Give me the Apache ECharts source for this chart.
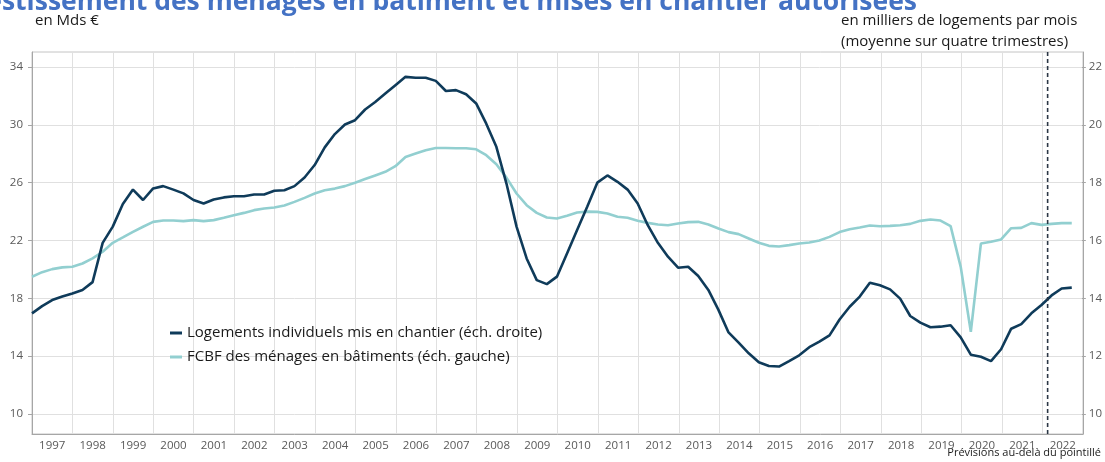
<!DOCTYPE html>
<html>
<head>
<meta charset="utf-8">
<script src="https://cdn.jsdelivr.net/npm/echarts@6/dist/echarts.min.js"></script>
<style>
  html, body { margin: 0; padding: 0; background: #fff; }
  #chart { width: 1105px; height: 462px; }
</style>
</head>
<body>
<div id="chart"></div>
<script>
// années (bandes de l'axe X)
var years = ['1997','1998','1999','2000','2001','2002','2003','2004','2005','2006','2007','2008','2009',
  '2010','2011','2012','2013','2014','2015','2016','2017','2018','2019','2020','2021','2022'];

// données trimestrielles, 1997T1 -> 2022T4 (104 points)
// logements individuels mis en chantier (échelle droite, milliers / mois)
var logements = [
  13.48, 13.73, 13.94, 14.06, 14.17, 14.29, 14.56, 15.92, 16.48, 17.26, 17.76, 17.40,
  17.80, 17.88, 17.76, 17.63, 17.40, 17.28, 17.42, 17.49, 17.53, 17.53, 17.59, 17.59,
  17.72, 17.74, 17.88, 18.18, 18.61, 19.22, 19.68, 20.01, 20.16, 20.53, 20.79, 21.08,
  21.37, 21.66, 21.63, 21.63, 21.52, 21.17, 21.20, 21.06, 20.74, 20.04, 19.24, 17.97,
  16.48, 15.38, 14.63, 14.49, 14.75, 15.55, 16.36, 17.17, 18.00, 18.25, 18.03, 17.76,
  17.28, 16.53, 15.92, 15.44, 15.06, 15.09, 14.77, 14.29, 13.60, 12.82, 12.47, 12.10,
  11.79, 11.66, 11.64, 11.83, 12.03, 12.31, 12.50, 12.72, 13.27, 13.71, 14.06, 14.54,
  14.45, 14.31, 13.99, 13.39, 13.16, 13.00, 13.02, 13.07, 12.65, 12.05, 11.98, 11.83,
  12.24, 12.95, 13.11, 13.48, 13.77, 14.10, 14.34, 14.37
];
// FBCF des ménages en bâtiments (échelle gauche, Mds €)
var fbcf = [
  19.49, 19.81, 20.02, 20.14, 20.18, 20.41, 20.76, 21.22, 21.84, 22.21, 22.60, 22.95,
  23.29, 23.38, 23.38, 23.34, 23.41, 23.34, 23.41, 23.57, 23.75, 23.91, 24.10, 24.21,
  24.28, 24.42, 24.67, 24.95, 25.25, 25.48, 25.59, 25.76, 25.99, 26.25, 26.50, 26.75,
  27.14, 27.78, 28.01, 28.24, 28.40, 28.40, 28.38, 28.38, 28.31, 27.90, 27.28, 26.35,
  25.25, 24.44, 23.91, 23.59, 23.52, 23.71, 23.94, 24.00, 23.98, 23.87, 23.64, 23.57,
  23.36, 23.22, 23.11, 23.06, 23.18, 23.27, 23.29, 23.11, 22.83, 22.58, 22.44, 22.14,
  21.84, 21.63, 21.59, 21.68, 21.79, 21.86, 22.00, 22.25, 22.58, 22.78, 22.90, 23.04,
  22.99, 23.01, 23.06, 23.15, 23.36, 23.45, 23.38, 22.99, 20.18, 15.69, 21.79, 21.91,
  22.07, 22.85, 22.87, 23.20, 23.08, 23.15, 23.20, 23.20
];
// début des prévisions (en trimestres depuis 1997T1)
var forecastStart = 100.5;

var nomLogements = 'Logements individuels mis en chantier (éch. droite)';
var nomFbcf = 'FCBF des ménages en bâtiments (éch. gauche)';

var font = 'Open Sans';
var axisGrey = '#a6a6a6';
var gridGrey = '#e0e0e0';

var chart = echarts.init(document.getElementById('chart'));

chart.setOption({
  animation: false,
  textStyle: { fontFamily: font },
  graphic: [
    { type: 'text', style: { text: 'Investissement des ménages en bâtiment et mises en chantier autorisées',
        x: 917, y: 2, align: 'right', verticalAlign: 'middle',
        font: 'bold 26.5px "Open Sans"', fill: '#4472c4' } },
    { type: 'text', style: { text: 'en Mds €', x: 35, y: 21, verticalAlign: 'middle',
        font: '15px "Open Sans"', fill: '#1a1a1a' } },
    { type: 'text', style: { text: 'en milliers de logements par mois', x: 841, y: 21, verticalAlign: 'middle',
        font: '15px "Open Sans"', fill: '#1a1a1a' } },
    { type: 'text', style: { text: '(moyenne sur quatre trimestres)', x: 841, y: 42, verticalAlign: 'middle',
        font: '15px "Open Sans"', fill: '#1a1a1a' } },
    { type: 'text', style: { text: 'Prévisions au-delà du pointillé', x: 1101, y: 453, align: 'right', verticalAlign: 'middle',
        font: '11px "Open Sans"', fill: '#1a1a1a' } }
  ],
  legend: {
    orient: 'vertical',
    left: 165,
    top: 320,
    data: [nomLogements, nomFbcf],
    icon: 'rect',
    itemWidth: 12,
    itemHeight: 3,
    itemGap: 8,
    textStyle: { fontSize: 15, lineHeight: 16, color: '#1a1a1a', fontFamily: font }
  },
  grid: [
    // cadre (axe des années)
    { left: 32, right: 22, top: 52, bottom: 28, show: true, borderColor: '#c4c4c4', borderWidth: 1 },
    // zone des courbes (10 -> 34 à gauche)
    { left: 32, right: 22, top: 67, bottom: 48 }
  ],
  xAxis: [
    {
      gridIndex: 0, type: 'category', data: years, boundaryGap: true,
      axisLine: { lineStyle: { color: axisGrey } },
      axisTick: { length: 4, lineStyle: { color: axisGrey } },
      axisLabel: { interval: 0, margin: 6, fontSize: 11.5, color: '#595959' },
      splitLine: { show: true, lineStyle: { color: gridGrey } }
    },
    { gridIndex: 0, type: 'value', min: 0, max: 104, show: false },
    { gridIndex: 1, type: 'value', min: 0, max: 104, show: false }
  ],
  yAxis: [
    { gridIndex: 0, type: 'value', min: 0, max: 1, position: 'left',
      axisLine: { show: true, lineStyle: { color: axisGrey } },
      axisTick: { show: false }, axisLabel: { show: false }, splitLine: { show: false } },
    { gridIndex: 0, type: 'value', min: 0, max: 1, position: 'right',
      axisLine: { show: true, lineStyle: { color: axisGrey } },
      axisTick: { show: false }, axisLabel: { show: false }, splitLine: { show: false } },
    { gridIndex: 1, type: 'value', min: 10, max: 34, interval: 4, position: 'left',
      axisLine: { show: false },
      axisTick: { show: true, length: 4, lineStyle: { color: axisGrey } },
      axisLabel: { margin: 9, fontSize: 11.5, color: '#595959' },
      splitLine: { show: true, lineStyle: { color: gridGrey } } },
    { gridIndex: 1, type: 'value', min: 10, max: 22, interval: 2, position: 'right',
      axisLine: { show: false },
      axisTick: { show: true, length: 4, lineStyle: { color: axisGrey } },
      axisLabel: { margin: 7, fontSize: 11.5, color: '#595959' },
      splitLine: { show: false } }
  ],
  series: [
    {
      name: nomFbcf, type: 'line', xAxisIndex: 2, yAxisIndex: 2,
      data: fbcf.map(function (v, i) { return [i, v]; }),
      showSymbol: false, symbol: 'none',
      lineStyle: { color: '#92cfd0', width: 2.6 },
      itemStyle: { color: '#92cfd0' }
    },
    {
      name: nomLogements, type: 'line', xAxisIndex: 2, yAxisIndex: 3,
      data: logements.map(function (v, i) { return [i, v]; }),
      showSymbol: false, symbol: 'none',
      lineStyle: { color: '#0f3b5a', width: 2.6 },
      itemStyle: { color: '#0f3b5a' }
    },
    {
      // pointillé : début des prévisions
      name: 'prevision', type: 'line', xAxisIndex: 1, yAxisIndex: 0,
      data: [[forecastStart, 0], [forecastStart, 1]],
      showSymbol: false, symbol: 'none', silent: true,
      lineStyle: { color: '#2b3645', width: 1.6, type: [4, 3] }
    }
  ]
});
</script>
</body>
</html>
